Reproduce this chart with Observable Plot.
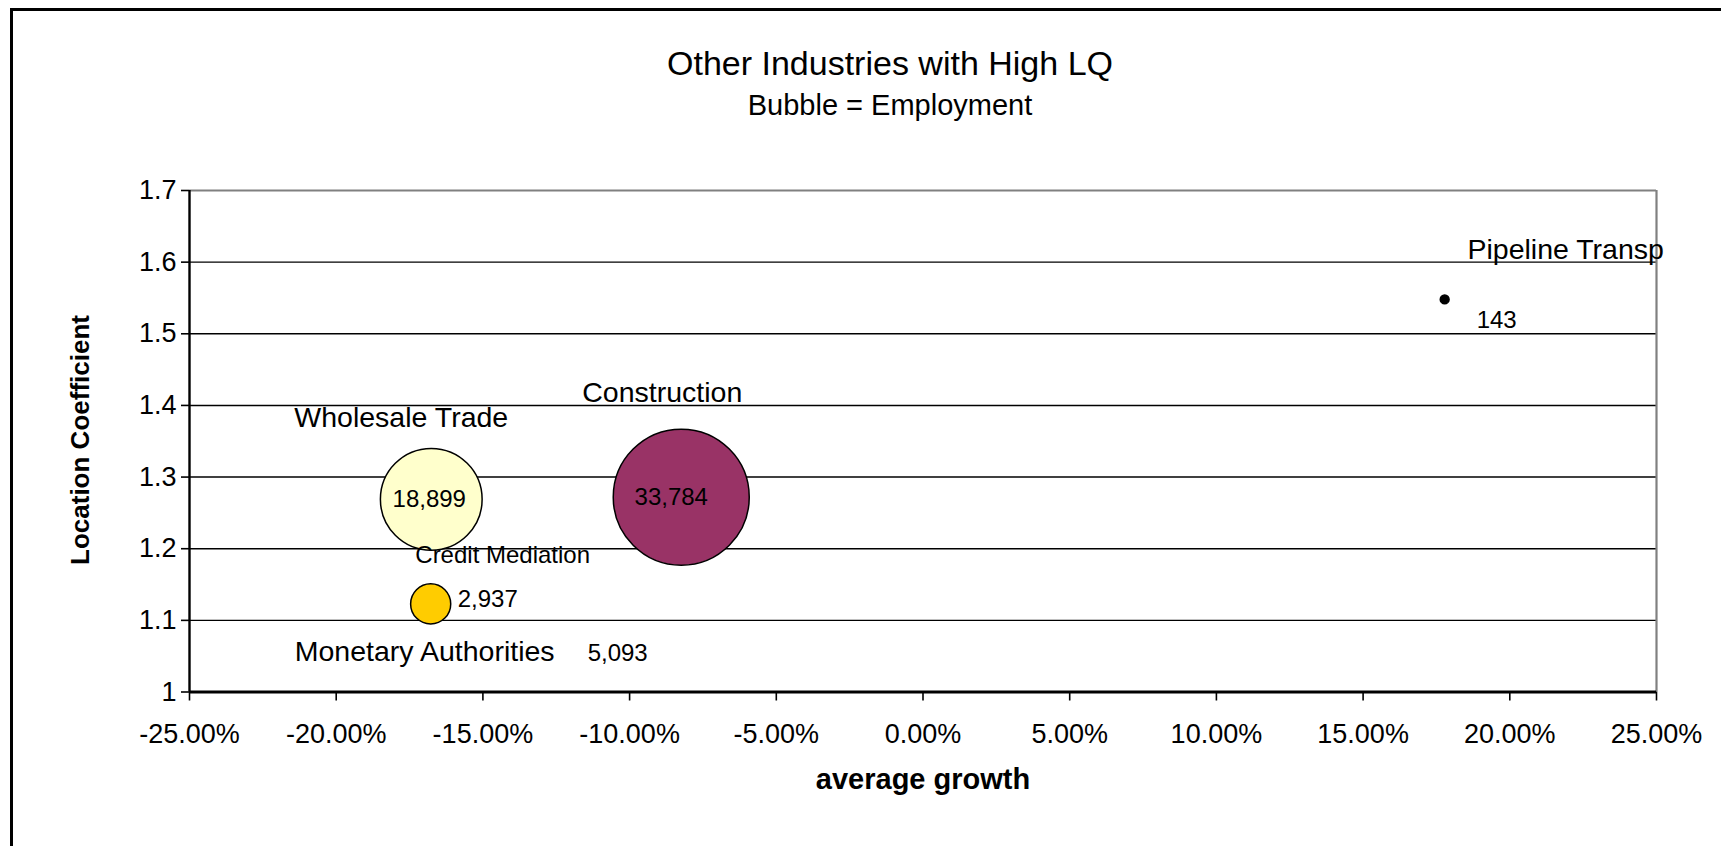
<!DOCTYPE html>
<html>
<head>
<meta charset="utf-8">
<script src="https://cdn.jsdelivr.net/npm/d3@7"></script>
<script src="https://cdn.jsdelivr.net/npm/@observablehq/plot@0.6"></script>
<style>
  html, body { margin: 0; padding: 0; background: #fff; overflow: hidden; }
  #wrap { position: relative; width: 1721px; height: 846px; overflow: hidden; font-family: "Liberation Sans", Arial, sans-serif; color: #000; }
  #frame { position: absolute; left: 10px; top: 8px; width: 1800px; height: 900px; border: 3px solid #000; box-sizing: border-box; pointer-events: none; z-index: 2; }
  #head { position: relative; height: 140px; }
  .title { position: absolute; left: 0; width: 1780px; text-align: center; line-height: 1; white-space: nowrap; }
  #t1 { top: 46px; font-size: 34px; }
  #t2 { top: 91px; font-size: 29px; }
  #ytitle { position: absolute; left: 80px; top: 440px; transform: translate(-50%, -50%) rotate(-90deg); font-weight: bold; font-size: 26px; line-height: 1; white-space: nowrap; z-index: 1; }
  #chart svg { display: block; }
</style>
</head>
<body>
<div id="wrap">
  <div id="frame"></div>
  <div id="head">
    <div class="title" id="t1">Other Industries with High LQ</div>
    <div class="title" id="t2">Bubble = Employment</div>
  </div>
  <div id="ytitle">Location Coefficient</div>
  <div id="chart"></div>
</div>
<script>
// ---- data ----
const industries = ["Wholesale Trade", "Construction", "Credit Mediation", "Monetary Authorities", "Pipeline Transp"];
const growth = [-16.76, -8.24, -16.78, -16.78, 17.78];          // average growth, %
const lq = [1.269, 1.272, 1.123, 0.98, 1.548];                  // location coefficient
const employment = [18899, 33784, 2937, 5093, 143];             // bubble = employment
const xTicks = [-25, -20, -15, -10, -5, 0, 5, 10, 15, 20, 25];
const yTicks = [1, 1.1, 1.2, 1.3, 1.4, 1.5, 1.6, 1.7];

const rows = industries.map((name, i) => ({name, growth: growth[i], lq: lq[i], employment: employment[i]}));

// ---- styling ----
const bubbleColors = ["#FFFFCC", "#993366", "#FFCC00", "#CCFFFF", "#000000"];
// label offsets in pixels relative to each bubble centre: [dx, dy]
const labelPlacement = {
  "Wholesale Trade":      {name: [-30, -81],  value: [-2, 0],   valueAnchor: "middle"},
  "Construction":         {name: [-19, -104], value: [-10, 0],  valueAnchor: "middle"},
  "Credit Mediation":     {name: [72, -49],   value: [27, -5],  valueAnchor: "start", small: true},
  "Monetary Authorities": {name: [-6, -54],   value: [187, -53], valueAnchor: "middle"},
  "Pipeline Transp":      {name: [121, -50],  value: [52, 21],  valueAnchor: "middle"}
};

const fmt = d3.format(",");
const labelMarks = [];
for (const n of industries) {
  const p = labelPlacement[n];
  labelMarks.push(Plot.text(rows, {
    filter: d => d.name === n, x: "growth", y: "lq", text: "name",
    dx: p.name[0], dy: p.name[1], fontSize: p.small ? 24 : 28.5,
    letterSpacing: p.small ? -0.6 : 0, fill: "#000"
  }));
  labelMarks.push(Plot.text(rows, {
    filter: d => d.name === n, x: "growth", y: "lq", text: d => fmt(d.employment),
    dx: p.value[0], dy: p.value[1], fontSize: 24, textAnchor: p.valueAnchor, fill: "#000"
  }));
}

const chart = Plot.plot({
  width: 1721,
  height: 706,
  marginTop: 50,
  marginBottom: 154.5,
  marginLeft: 189,
  marginRight: 65,
  style: {fontFamily: "'Liberation Sans', Arial, sans-serif", fontSize: "27px", color: "#000", background: "transparent", overflow: "visible"},
  x: {domain: [-25, 25], label: null},
  y: {domain: [1, 1.7], label: null},
  r: {type: "sqrt", domain: [0, d3.max(employment)], range: [0, 68]},
  color: {domain: industries, range: bubbleColors},
  marks: [
    Plot.ruleY(yTicks.filter(d => d > 1 && d < 1.7), {stroke: "#000", strokeWidth: 1.4}),
    Plot.ruleY([1.7], {stroke: "#808080", strokeWidth: 2.2}),
    Plot.ruleX([25], {stroke: "#808080", strokeWidth: 2.2}),
    Plot.axisX({ticks: xTicks, tickFormat: d => d.toFixed(2) + "%", tickSize: 9, tickPadding: 23, strokeWidth: 1.6, label: null, fontSize: 27}),
    Plot.axisY({ticks: yTicks, tickFormat: d => d === 1 ? "1" : d.toFixed(1), tickSize: 8, tickPadding: 5, strokeWidth: 1.6, label: null, fontSize: 27}),
    Plot.ruleX([-25], {stroke: "#000", strokeWidth: 2.4}),
    Plot.ruleY([1], {stroke: "#000", strokeWidth: 3}),
    Plot.dot(rows, {filter: d => d.lq >= 1, x: "growth", y: "lq", r: "employment", fill: "name", stroke: "#000", strokeWidth: 1.5, sort: {channel: "r", order: "descending"}}),
    ...labelMarks,
    Plot.text(["average growth"], {text: d => d, frameAnchor: "bottom", dy: 96.5, fontWeight: "bold", fontSize: 29, fill: "#000"})
  ]
});
document.getElementById("chart").appendChild(chart);
</script>
</body>
</html>
